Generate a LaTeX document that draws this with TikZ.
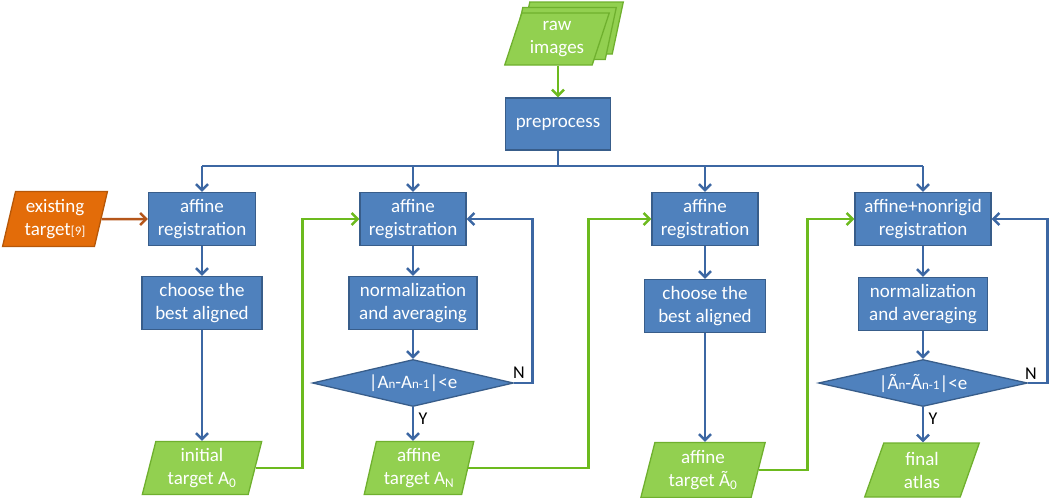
\documentclass[tikz,border=0pt]{standalone}
\usepackage{fontspec}
\setmainfont{Carlito}
\usetikzlibrary{shapes.geometric,arrows.meta}

\definecolor{boxblue}{HTML}{4F81BD}
\definecolor{boxedge}{HTML}{385D8A}
\definecolor{lineblue}{HTML}{3C67A3}
\definecolor{gfill}{HTML}{92D050}
\definecolor{gedge}{HTML}{6FB02E}
\definecolor{lgreen}{HTML}{6CBA1E}
\definecolor{ofill}{HTML}{E36C09}
\definecolor{oedge}{HTML}{B65708}
\definecolor{lorange}{HTML}{B5561A}

\tikzset{
    proc/.style={rectangle, draw=boxedge, fill=boxblue, line width=1.3pt,
        text=white, align=center, inner sep=0pt, minimum height=53pt,
        font=\fontsize{19}{23}\selectfont},
    data/.style={trapezium, trapezium left angle=76, trapezium right angle=104,
        trapezium stretches=true, draw=gedge, fill=gfill, line width=1.3pt,
        text=white, align=center, inner sep=1pt, minimum height=53pt,
        font=\fontsize{19}{23}\selectfont},
    test/.style={diamond, aspect=4.3, draw=boxedge, fill=boxblue, line width=1.3pt,
        text=white, inner sep=0pt, minimum height=47pt,
        font=\fontsize{19}{23}\selectfont},
    tag/.style={text=black, inner sep=0pt, font=\fontsize{18}{22}\selectfont},
    bline/.style={draw=lineblue, line width=2.5pt},
    barrow/.style={bline, -{Straight Barb[length=6pt,width=12pt]}},
    garrow/.style={draw=lgreen, line width=2.5pt, -{Straight Barb[length=6pt,width=12pt]}},
    oarrow/.style={draw=lorange, line width=2.5pt, -{Straight Barb[length=6pt,width=12pt]}},
}
\newcommand{\sm}[1]{{\fontsize{13}{13}\selectfont #1}}

\begin{document}
\begin{tikzpicture}[x=1pt,y=-1pt]
    \useasboundingbox (0,0) rectangle (1050,498);

    % input stack
    \node[data, trapezium left angle=70, trapezium right angle=110, minimum width=105pt, minimum height=52pt] (raw3) at (571,28) {\phantom{raw}};
    \node[data, trapezium left angle=70, trapezium right angle=110, minimum width=105pt, minimum height=52pt] (raw2) at (564,33.5) {\phantom{raw}};
    \node[data, trapezium left angle=70, trapezium right angle=110, minimum width=105pt, minimum height=52pt] (raw) at (557,39) {raw\\images};

    \node[proc, minimum width=105pt, minimum height=52pt] (pre) at (558,124) {preprocess};

    % first row
    \node[data, draw=oedge, fill=ofill, minimum width=105pt, minimum height=55pt] (exist) at (55,219) {existing\\target\sm{[9]}};
    \node[proc, minimum width=107pt] (reg1) at (202,219) {affine\\registration};
    \node[proc, minimum width=106pt] (reg2) at (413,219) {affine\\registration};
    \node[proc, minimum width=106pt] (reg3) at (705,219) {affine\\registration};
    \node[proc, minimum width=136pt] (reg4) at (923,219) {affine+nonrigid\\registration};

    % second row
    \node[proc, minimum width=120pt] (cho1) at (202,303) {choose the\\best aligned};
    \node[proc, minimum width=128pt] (norm2) at (413,303) {normalization\\and averaging};
    \node[proc, minimum width=121pt] (cho3) at (705,306) {choose the\\best aligned};
    \node[proc, minimum width=129pt] (norm4) at (923,304) {normalization\\and averaging};

    % tests
    \node[test, minimum width=201pt] (dia2) at (413,383) {|A\sm{n}-A\sm{n-1}|<e};
    \node[test, minimum width=209pt] (dia4) at (923,383) {|Ã\sm{n}-Ã\sm{n-1}|<e};

    % outputs
    \node[data, minimum width=120pt] (init) at (202,468) {initial\\target A\textsubscript{0}};
    \node[data, minimum width=110pt] (tgtN) at (419,468) {affine\\target A\textsubscript{N}};
    \node[data, minimum width=125pt, minimum height=55pt] (tgt0) at (703,470) {affine\\target Ã\textsubscript{0}};
    \node[data, minimum width=115pt, minimum height=54pt] (final) at (922,470) {final\\atlas};

    \node[tag] (n2) at (519,373) {N};
    \node[tag] (y2) at (423,419) {Y};
    \node[tag] (n4) at (1031,374) {N};
    \node[tag] (y4) at (933,419) {Y};

    % bus
    \coordinate (bus) at (558,166);
    \draw[garrow] (raw.south -| pre.north) -- (pre.north);
    \draw[bline] (pre.south) -- (bus);
    \draw[bline] (reg1 |- bus) -- (reg4 |- bus);
    \foreach \r in {reg1,reg2,reg3,reg4}
        \draw[barrow] (\r |- bus) -- (\r.north);

    \draw[oarrow] (exist.east) -- (reg1.west);

    % column 1
    \draw[barrow] (reg1) -- (cho1);
    \draw[barrow] (cho1) -- (init);
    \draw[garrow] (init.east) -| ([xshift=-57pt]reg2.west) -- (reg2.west);

    % column 2
    \draw[barrow] (reg2) -- (norm2);
    \draw[barrow] (norm2) -- (dia2);
    \draw[barrow] (dia2.south) -- (dia2.south |- tgtN.north);
    \draw[barrow] (dia2.east) -| ([xshift=66pt]reg2.east) -- (reg2.east);
    \draw[garrow] (tgtN.east) -| ([xshift=-63pt]reg3.west) -- (reg3.west);

    % column 3
    \draw[barrow] (reg3) -- (cho3);
    \draw[barrow] (cho3.south) -- (cho3.south |- tgt0.north);
    \draw[garrow] (tgt0.east) -| ([xshift=-47pt]reg4.west) -- (reg4.west);

    % column 4
    \draw[barrow] (reg4) -- (norm4);
    \draw[barrow] (norm4) -- (dia4);
    \draw[barrow] (dia4.south) -- (dia4.south |- final.north);
    \draw[barrow] (dia4.east) -| ([xshift=56pt]reg4.east) -- (reg4.east);
\end{tikzpicture}
\end{document}
